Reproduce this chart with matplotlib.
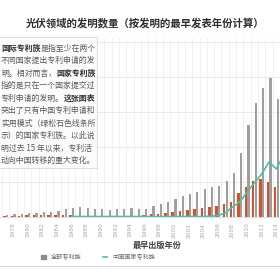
import numpy as np
import matplotlib.pyplot as plt
from matplotlib.patches import Rectangle
from matplotlib.lines import Line2D

plt.rcParams['font.family'] = ['Noto Sans CJK SC', 'DejaVu Sans']

# data (counts of inventions)
years = list(range(1977, 2015))
all_families = [290, 430, 430, 570, 570, 710, 710, 860, 1140, 1290,
                1430, 1290, 1140, 1140, 1000, 1140, 1140, 1290, 1140, 1140,
                1570, 1860, 2140, 2570, 3000, 3290, 3570, 4000, 4290, 4430,
                5140, 6290, 9140, 13140, 16290, 18430, 19860, 16860]
intl_families = [150, 200, 200, 250, 250, 250, 300, 300, 300, 250,
                 150, 150, 150, 150, 150, 150, 150, 150, 200, 290,
                 430, 430, 570, 710, 860, 1000, 1140, 1290, 1430, 1570,
                 1860, 2140, 3430, 4290, 5140, 5430, 5000, 4290]
cn_years = list(range(1986, 2016))
cn_families = [70, 70, 70, 70, 70, 70, 70, 70, 70, 70,
               70, 70, 70, 70, 70, 70, 70, 70, 70, 110,
               210, 570, 1430, 2140, 3570, 4860, 6140, 7860, 6860, 8860]

title = "光伏领域的发明数量（按发明的最早发表年份计算）"
xlabel = "最早出版年份"
legend_labels = ["全部专利族", "中国国家专利族"]
note_lines = [
    [("国际专利族", True), ("是指至少在两个", False)],
    [("不同国家提出专利申请的发", False)],
    [("明。相对而言，", False), ("国家专利族", True)],
    [("指的是只在一个国家提交过", False)],
    [("专利申请的发明。", False), ("这张图表", True)],
    [("突出了只有中国专利申请和", False)],
    [("实用模式（绿松石色线条所", False)],
    [("示）的国家专利族。以此说", False)],
    [("明过去 15 年以来，专利活", False)],
    [("动向中国转移的重大变化。", False)],
]

GREY = '#9f9f9f'
RED = '#d4532d'
TEAL = '#4dbfa7'

W = H = 280
def fx(x): return x / W
def fy(y): return 1 - y / H

fig = plt.figure(figsize=(2.8, 2.8), dpi=100)
ax = fig.add_axes([0, fy(217), 1, (217 - 38) / H])

yr = np.array(years)
ax.bar(yr - 0.17, intl_families, width=0.34, color=RED, zorder=2)
ax.bar(yr + 0.2, all_families, width=0.3, color=GREY, zorder=2)
ax.plot(cn_years, cn_families, color=TEAL, lw=1.2, zorder=3)

ax.set_xlim(1976.21, 2014.41)
ax.set_ylim(0, 179 / 35 * 5000)
ax.set_yticks(np.arange(5000, 25001, 5000))
ax.set_yticklabels([])
ax.set_xticks(range(1978, 2015, 2))
ax.set_xticklabels([str(y) for y in range(1978, 2015, 2)], rotation=90,
                   fontsize=4.2, color='#a8a8a8', family='DejaVu Sans')
ax.set_xticks(np.arange(1976.5, 2015, 1), minor=True)
ax.tick_params(length=0, which='both', pad=4)
ax.grid(axis='y', color='#e6e6e6', lw=0.6, zorder=0)
ax.grid(axis='x', which='minor', color='#ececec', lw=0.5, zorder=0)
ax.set_axisbelow(True)
for s in ['top', 'right', 'left']:
    ax.spines[s].set_visible(False)
ax.spines['bottom'].set_color('#d9d9d9')
ax.spines['bottom'].set_linewidth(0.6)

fig.text(fx(145), fy(23), title, ha='center', va='center',
         fontsize=7.5, fontweight='bold', color='#2e2e2e')
fig.text(fx(157), fy(245), xlabel, ha='center', va='center',
         fontsize=5.9, color='#404040', fontweight='bold')

# text box over the left of the chart
box = Rectangle((fx(-2), fy(168)), fx(99), (168 - 37) / H,
                transform=fig.transFigure, facecolor='#fbfbfb',
                edgecolor='#dadada', lw=0.6, zorder=5)
fig.patches.append(box)

renderer = fig.canvas.get_renderer()
for i, segs in enumerate(note_lines):
    x = 1.0
    y = 48 + i * 12.5
    for txt, bold in segs:
        t = fig.text(fx(x), fy(y), txt, ha='left', va='center', fontsize=5.7,
                     fontweight='bold' if bold else 'normal',
                     color='#333333' if bold else '#5a5a5a', zorder=6)
        x += t.get_window_extent(renderer).width

handles = [Rectangle((0, 0), 1, 1, color='#8c8c8c'),
           Line2D([0], [0], color=TEAL, lw=1.2)]
fig.legend(handles, legend_labels, loc='center', bbox_to_anchor=(fx(98), fy(257)),
           ncol=2, frameon=False, fontsize=4.4, handlelength=0.8, handleheight=0.8,
           columnspacing=3.5, handletextpad=0.8, labelcolor='#666666')

fig.add_artist(Line2D([0, 1], [fy(266), fy(266)], color='#dddddd', lw=0.8))

fig.savefig('out.png', dpi=100)
